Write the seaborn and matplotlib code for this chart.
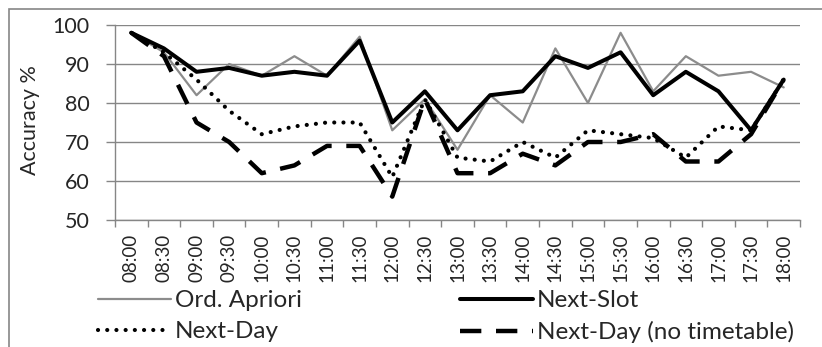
import numpy as np
import pandas as pd
import matplotlib
matplotlib.use("Agg")
import matplotlib.pyplot as plt
from matplotlib.patches import Rectangle
import seaborn as sns

times = ["08:00", "08:30", "09:00", "09:30", "10:00", "10:30", "11:00",
         "11:30", "12:00", "12:30", "13:00", "13:30", "14:00", "14:30",
         "15:00", "15:30", "16:00", "16:30", "17:00", "17:30", "18:00"]
apriori = [98, 93, 82, 90, 87, 92, 87, 97, 73, 81, 68, 82, 75, 94, 80, 98, 83, 92, 87, 88, 84]
next_slot = [98, 94, 88, 89, 87, 88, 87, 96, 75, 83, 73, 82, 83, 92, 89, 93, 82, 88, 83, 73, 86]
next_day = [98, 93, 86, 78, 72, 74, 75, 75, 61, 81, 66, 65, 70, 66, 73, 72, 71, 66, 74, 73, 86]
next_day_nott = [98, 92, 75, 70, 62, 64, 69, 69, 56, 81, 62, 62, 67, 64, 70, 70, 72, 65, 65, 72, 86]

sns.set_theme(style="white")
plt.rcParams["font.family"] = ["Lato", "DejaVu Sans"]

grey = "#868686"
fig = plt.figure(figsize=(8.22, 3.47), dpi=100)
ax = fig.add_axes([115 / 822, 1 - 220 / 347, 685 / 822, 195 / 347])

sns.lineplot(x=times, y=apriori, ax=ax, sort=False, color="#8c8c8c", lw=1.6,
             label="Ord. Apriori")
sns.lineplot(x=times, y=next_slot, ax=ax, sort=False, color="black", lw=2.9,
             label="Next-Slot")
sns.lineplot(x=times, y=next_day, ax=ax, sort=False, color="black", lw=3.0,
             linestyle=(0, (0.01, 2.2)), dash_capstyle="round", label="Next-Day")
sns.lineplot(x=times, y=next_day_nott, ax=ax, sort=False, color="black", lw=3.2,
             linestyle=(0, (4.8, 3.3)), label="Next-Day (no timetable)")

ax.set_xlim(-0.5, len(times) - 0.5)
ax.set_ylim(50, 100)
ax.set_yticks([50, 60, 70, 80, 90, 100])
ax.set_xticks(np.arange(len(times)))
ax.set_xticklabels(times, rotation=90, fontsize=13.5)
ax.set_xticks(np.arange(-0.5, len(times)), minor=True)
ax.tick_params(axis="x", which="major", length=0, pad=10)
ax.tick_params(axis="x", which="minor", length=5, width=1, color=grey, direction="out", bottom=True)
ax.tick_params(axis="y", length=6.5, width=1, color=grey, direction="out", left=True,
               labelsize=15.5, pad=12)
ax.yaxis.grid(True, color=grey, lw=1)
ax.set_axisbelow(True)
for s in ["top", "right"]:
    ax.spines[s].set_visible(False)
for s in ["left", "bottom"]:
    ax.spines[s].set_color(grey)
    ax.spines[s].set_linewidth(1)

ax.set_xlabel("")
ax.set_ylabel("Accuracy %", fontsize=15.5, va="center")
ax.yaxis.set_label_coords(-0.124, 0.51)

handles, labels = ax.get_legend_handles_labels()
ax.get_legend().remove()
leg_kw = dict(frameon=False, fontsize=17.5, handlelength=3.0, handletextpad=0.15,
              labelspacing=0.42, borderpad=0, borderaxespad=0, loc="upper left")
fig.legend([handles[0], handles[2]], [labels[0], labels[2]],
           bbox_to_anchor=(98 / 822, 1 - 290 / 347), **leg_kw)
fig.legend([handles[1], handles[3]], [labels[1], labels[3]],
           bbox_to_anchor=(460 / 822, 1 - 290 / 347), **leg_kw)

# outer chart border
fig.patches.append(Rectangle((9 / 822, -0.1), 1.1, 1.1 - 8.5 / 347,
                             transform=fig.transFigure, fill=False,
                             edgecolor=grey, lw=1.2))

fig.savefig("out.png", dpi=100)
